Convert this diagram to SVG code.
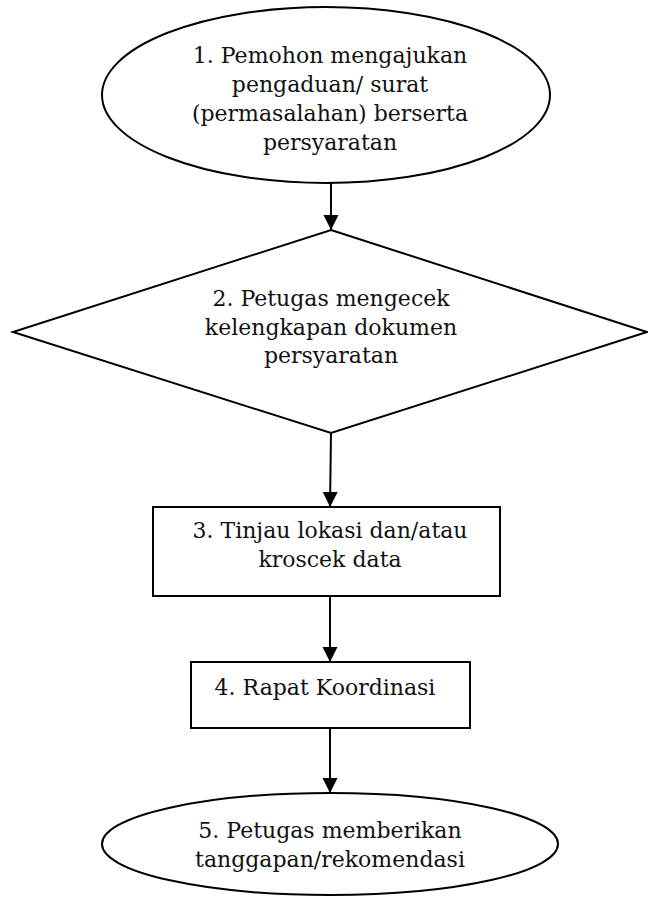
<svg xmlns="http://www.w3.org/2000/svg" width="648" height="900" viewBox="0 0 648 900">
<style>
.shape{fill:#fff;stroke:#000;stroke-width:2}
.lbl{font-family:"DejaVu Serif","Liberation Serif",serif;font-size:22px;fill:#111;text-anchor:middle}
.conn{stroke:#000;stroke-width:2;fill:none;marker-end:url(#ah)}
</style>
<defs>
<marker id="ah" markerWidth="16" markerHeight="16" refX="15" refY="7.5" orient="auto" markerUnits="userSpaceOnUse">
<path d="M0,0 L15,7.5 L0,15 Z" fill="#000"/>
</marker>
</defs>
<rect width="648" height="900" fill="#fff"/>
<g id="connectors">
<line class="conn" x1="331" y1="183" x2="331" y2="230"/>
<line class="conn" x1="331" y1="433" x2="330" y2="507"/>
<line class="conn" x1="330" y1="596" x2="330" y2="662"/>
<line class="conn" x1="330" y1="728" x2="330" y2="793"/>
</g>
<g id="node1">
<ellipse class="shape" cx="326" cy="95" rx="224" ry="88"/>
<text class="lbl" x="330" y="63">1. Pemohon mengajukan</text>
<text class="lbl" x="330" y="92">pengaduan/ surat</text>
<text class="lbl" x="330" y="121">(permasalahan) berserta</text>
<text class="lbl" x="330" y="150">persyaratan</text>
</g>
<g id="node2">
<polygon class="shape" points="331,230 647,332 331,433 13,332"/>
<text class="lbl" x="331" y="306">2. Petugas mengecek</text>
<text class="lbl" x="331" y="335">kelengkapan dokumen</text>
<text class="lbl" x="331" y="363">persyaratan</text>
</g>
<g id="node3">
<rect class="shape" x="153" y="507" width="347" height="89"/>
<text class="lbl" x="330" y="538">3. Tinjau lokasi dan/atau</text>
<text class="lbl" x="330" y="567">kroscek data</text>
</g>
<g id="node4">
<rect class="shape" x="191" y="662" width="279" height="66"/>
<text class="lbl" x="325" y="695">4. Rapat Koordinasi</text>
</g>
<g id="node5">
<ellipse class="shape" cx="330" cy="844" rx="228" ry="51"/>
<text class="lbl" x="330" y="838">5. Petugas memberikan</text>
<text class="lbl" x="330" y="867">tanggapan/rekomendasi</text>
</g>
</svg>
